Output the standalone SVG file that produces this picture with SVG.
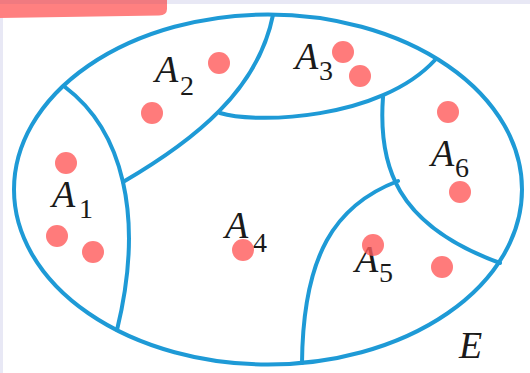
<svg xmlns="http://www.w3.org/2000/svg" width="530" height="373" viewBox="0 0 530 373">
  <style>
    .edge { fill: none; stroke: #1e9ad6; stroke-width: 4; stroke-linecap: round; }
    .lbl { font-family: "Liberation Serif", "Times New Roman", serif; font-style: italic; font-size: 38px; fill: #1a1a1a; }
    .sub { font-family: "Liberation Serif", "Times New Roman", serif; font-size: 28px; fill: #1a1a1a; }
    .dot { fill: #ff5a5a; fill-opacity: 0.8; }
  </style>
  <rect x="0" y="0" width="530" height="373" fill="#ffffff"/>
  <rect x="0" y="0" width="530" height="4" fill="#e8e8f5"/>
  <rect x="0" y="0" width="3" height="373" fill="#e8e8f5"/>
  <path d="M0,0 H167 V9 Q167,15 159,15.5 L0,18 Z" fill="#ff8080"/>
  <rect x="0" y="0" width="167" height="4" fill="#f07a80"/>

  <g id="E">
    <ellipse cx="268" cy="189.5" rx="254" ry="175" class="edge"/>
    <text class="lbl" x="459" y="358">E</text>
  </g>

  <g id="connectors">
    <path class="edge" d="M65,87 C122,130 145,215 117,330"/>
    <path class="edge" d="M123,182 C195,140 258,90 273,15"/>
    <path class="edge" d="M220,113 C255,124 380,120 435,60"/>
    <path class="edge" d="M383,97 C378,165 395,225 500,263"/>
    <path class="edge" d="M398,181 C335,205 303,255 302,363"/>
  </g>

  <g id="A1">
    <text class="lbl" x="52" y="207">A</text><text class="sub" x="79" y="218">1</text>
    <circle class="dot" cx="66" cy="163" r="11"/>
    <circle class="dot" cx="57" cy="236" r="11"/>
    <circle class="dot" cx="93" cy="252" r="11"/>
  </g>
  <g id="A2">
    <text class="lbl" x="155" y="82">A</text><text class="sub" x="180" y="95">2</text>
    <circle class="dot" cx="219" cy="63" r="11"/>
    <circle class="dot" cx="152" cy="113" r="11"/>
  </g>
  <g id="A3">
    <text class="lbl" x="295" y="69">A</text><text class="sub" x="319" y="80">3</text>
    <circle class="dot" cx="343" cy="52" r="11"/>
    <circle class="dot" cx="360" cy="76" r="11"/>
  </g>
  <g id="A4">
    <text class="lbl" x="225" y="238">A</text><text class="sub" x="253" y="252">4</text>
    <circle class="dot" cx="243" cy="250" r="11"/>
  </g>
  <g id="A5">
    <text class="lbl" x="355" y="272">A</text><text class="sub" x="379" y="282">5</text>
    <circle class="dot" cx="373" cy="245" r="11"/>
    <circle class="dot" cx="442" cy="267" r="11"/>
  </g>
  <g id="A6">
    <text class="lbl" x="431" y="166">A</text><text class="sub" x="455" y="177">6</text>
    <circle class="dot" cx="448" cy="112" r="11"/>
    <circle class="dot" cx="460" cy="192" r="11"/>
  </g>
</svg>
